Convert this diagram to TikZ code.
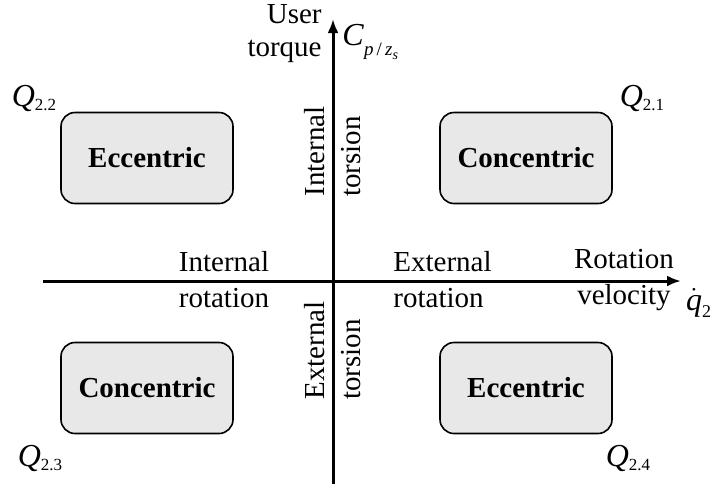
\documentclass[tikz,border=0pt]{standalone}
\usepackage{fontspec}
\setmainfont{Liberation Serif}
\usetikzlibrary{shapes,positioning,arrows.meta}
\definecolor{zonegray}{RGB}{232,232,232}

\newcommand{\quadname}[1]{{\fontsize{16}{16}\selectfont\textit{Q}}\raisebox{-2pt}{\fontsize{8.5}{8.5}\selectfont #1}}

\begin{document}
\begin{tikzpicture}[x=0.5pt,y=-0.5pt,
    every node/.style={inner sep=0pt, font=\fontsize{14.5}{18}\selectfont},
    axis/.style={line width=1.5pt},
    zone/.style={draw, rounded corners=7pt, fill=zonegray, line width=0.8pt,
                 minimum width=86pt, minimum height=45.5pt,
                 font=\fontsize{14.5}{18}\selectfont\bfseries},
    vlabel/.style={rotate=90, align=left, anchor=west},
    >={Latex[length=7pt,width=5.5pt]}]
    \useasboundingbox (0,0) rectangle (712,484);

    % axes
    \coordinate (xs) at (43,281);
    \coordinate (xe) at (681,281);
    \coordinate (ys) at (333,484);
    \coordinate (ye) at (333,19);
    \draw[axis,->] (xs) -- (xe);
    \draw[axis,->] (ys) -- (ye);

    % quadrants
    \node[zone] (z2) at (147,158) {Eccentric};
    \node[zone] (z1) at (526,158) {Concentric};
    \node[zone] (z3) at (147,388) {Concentric};
    \node[zone] (z4) at (526,388) {Eccentric};

    \node (q1) at (642,98) {\quadname{2.1}};
    \node (q2) at (34,98) {\quadname{2.2}};
    \node (q3) at (40,458) {\quadname{2.3}};
    \node (q4) at (628,458) {\quadname{2.4}};

    % axis labels
    \node[align=center] (introt) at (224,280) {Internal\\rotation};
    \node[align=left, anchor=west] (extrot) at (393,280) {External\\rotation};
    \node[align=center] (rotvel) at (624,280) {Rotation\\velocity};
    \node (qdot) at (699,303) {$\dot{\hbox{\fontsize{16}{16}\selectfont\textit{q}}}_{\hbox{\fontsize{9}{9}\selectfont 2}}$};
    \node[align=right, anchor=north east, font=\fontsize{14.5}{16.5}\selectfont] (user) at (322,4) {User\\torque};
    \node[anchor=west] (cpz) at (342,42) {{\fontsize{16}{16}\selectfont\textit{C}}\raisebox{-5pt}{\fontsize{9.5}{9.5}\selectfont\textit{p}\,/\,\textit{z}\raisebox{-2pt}{\fontsize{7}{7}\selectfont\textit{s}}}};
    \node[vlabel] (inttor) at (333,197) {Internal\\torsion};
    \node[vlabel] (exttor) at (333,400) {External\\torsion};
\end{tikzpicture}
\end{document}
